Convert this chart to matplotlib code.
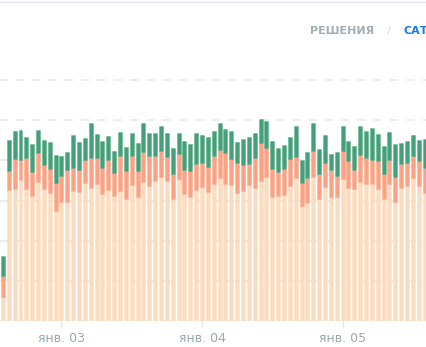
import matplotlib
matplotlib.use('Agg')
import matplotlib.pyplot as plt
from matplotlib.colors import to_rgba
from matplotlib.lines import Line2D
import numpy as np

# ==========================================
# ДАННЫЕ (почасовые столбцы, 02.01 14:00 ... 05.01 14:00)
# ==========================================
peach = [6.0,
         32.6, 32.8, 35.1, 32.9, 31.1, 34.7, 32.9, 31.9, 27.4, 29.7, 29.7, 32.4,
         32.2, 34.4, 33.0, 34.1, 31.5, 32.6, 31.2, 32.4, 30.3, 33.9, 30.8, 34.7,
         33.6, 34.9, 35.9, 34.9, 30.5, 35.3, 31.6, 30.8, 32.6, 33.3, 32.1, 34.1,
         35.5, 34.1, 33.9, 31.8, 32.4, 33.9, 33.0, 34.9, 35.9, 30.8, 31.2, 31.4,
         33.6, 35.7, 28.7, 29.4, 35.8, 30.4, 33.3, 30.9, 30.9, 35.3, 33.0, 32.9,
         34.5, 34.1, 34.1, 32.8, 30.5, 34.1, 29.7, 33.2, 33.6, 35.7, 33.7, 31.9]
salmon = [5.1,
          4.8, 7.5, 5.0, 7.6, 6.0, 7.2, 6.0, 6.0, 7.0, 6.4, 8.0, 5.7,
          5.4, 5.7, 7.5, 6.4, 6.7, 7.5, 5.7, 8.7, 7.1, 7.2, 6.6, 7.5,
          7.5, 6.2, 6.4, 5.9, 6.0, 6.4, 6.0, 6.5, 6.6, 6.0, 6.3, 6.9,
          7.2, 7.8, 6.5, 7.5, 6.4, 5.2, 7.6, 9.4, 7.3, 7.0, 6.0, 6.4,
          6.7, 5.1, 5.6, 6.1, 6.5, 6.2, 6.1, 6.6, 5.2, 7.1, 6.8, 4.7,
          6.8, 6.5, 6.0, 7.0, 6.2, 6.1, 6.2, 5.8, 5.8, 5.4, 6.1, 6.3]
green = [5.2,
         7.6, 7.0, 7.5, 5.4, 6.9, 5.7, 6.2, 6.6, 6.9, 5.0, 4.3, 8.2,
         7.0, 5.4, 8.7, 6.0, 6.6, 6.0, 5.5, 5.9, 6.0, 5.8, 7.0, 7.2,
         5.6, 5.7, 6.2, 6.0, 6.5, 5.0, 7.2, 6.8, 7.5, 6.9, 7.3, 6.4,
         6.5, 5.8, 7.0, 5.3, 6.5, 6.6, 6.3, 5.9, 6.6, 6.9, 5.8, 6.0,
         5.4, 7.8, 5.8, 6.6, 7.0, 6.2, 6.9, 4.2, 6.0, 6.1, 5.1, 6.0,
         7.3, 6.7, 7.9, 6.7, 6.9, 6.9, 8.1, 5.2, 5.4, 5.2, 5.2, 7.0]

tick_pos = [10, 34, 58]          # полночь соответствующего дня
tick_labels = ['янв. 03', 'янв. 04', 'янв. 05']

# ==========================================
# ЦВЕТА
# ==========================================
c_peach = '#fcdcbf'
c_salmon = '#fca282'
c_green = '#43a078'

# ==========================================
# ГРАФИК
# ==========================================
fig = plt.figure(figsize=(4.27, 3.47), dpi=100)
ax = fig.add_axes([0, 26 / 347, 1, 251 / 347])

x = np.arange(len(peach))
peach = np.array(peach)
salmon = np.array(salmon)
green = np.array(green)

w = 0.68
lw = 0.6
ax.bar(x, peach, width=w, color=c_peach, edgecolor=to_rgba(c_peach, 0.5), linewidth=lw)
ax.bar(x, salmon, width=w, bottom=peach, color=c_salmon,
       edgecolor=to_rgba(c_salmon, 0.45), linewidth=lw)
ax.bar(x, green, width=w, bottom=peach + salmon, color=c_green,
       edgecolor=to_rgba(c_green, 0.4), linewidth=lw)

ax.set_xlim(-0.5, 72.42)
ax.set_ylim(0, 62.5)

ax.set_yticks(range(0, 61, 10))
ax.tick_params(axis='y', left=False, labelleft=False)
ax.grid(axis='y', color='#ebebef', linewidth=1.3, linestyle=(0, (4.5, 4.5)))
ax.set_axisbelow(True)

ax.set_xticks(tick_pos)
ax.set_xticklabels(tick_labels)
ax.tick_params(axis='x', length=4, width=1, color='#e3e3e8', pad=4,
               labelsize=9, labelcolor='#9ea7b0')

for s in ax.spines.values():
    s.set_visible(False)

# верхняя рамка карточки и переключатель (справа обрезан, как в исходнике)
fig.add_artist(Line2D([0, 1], [1 - 2 / 347, 1 - 2 / 347], color='#e6e4f3', linewidth=1))
fig.text(310 / 427, 1 - 31 / 347, 'РЕШЕНИЯ', fontsize=8, fontweight='bold',
         color='#a3adb5', va='center', ha='left')
fig.text(389 / 427, 1 - 31 / 347, '/', fontsize=8, color='#d5d9de', va='center', ha='center')
fig.text(404 / 427, 1 - 31 / 347, 'САТ', fontsize=8, fontweight='bold',
         color='#1a7be3', va='center', ha='left')

fig.savefig('out.png', dpi=100)
